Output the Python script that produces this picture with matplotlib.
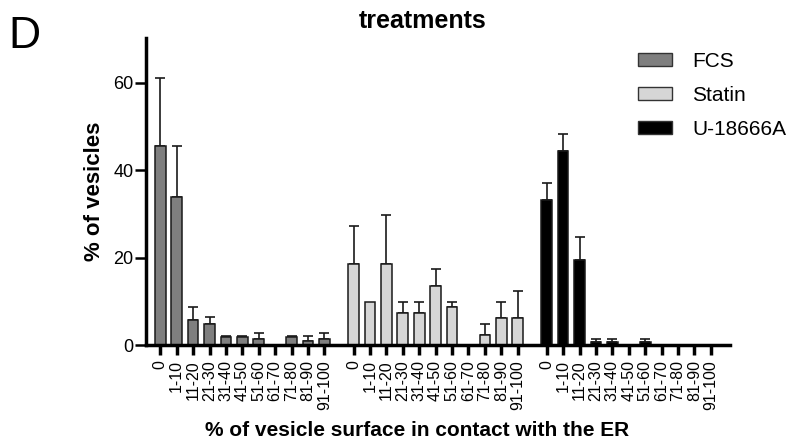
import matplotlib
matplotlib.use("Agg")
import matplotlib.pyplot as plt
import numpy as np
from matplotlib.patches import Patch

plt.rcParams['font.family'] = ['Liberation Sans', 'DejaVu Sans']

categories = ["0", "1-10", "11-20", "21-30", "31-40", "41-50", "51-60",
              "61-70", "71-80", "81-90", "91-100"]
groups = ["FCS", "Statin", "U-18666A"]
fcs_mean = [45.6, 34.0, 5.7, 4.7, 1.8, 1.8, 1.3, 0.0, 1.8, 0.9, 1.3]
fcs_err = [15.5, 11.5, 2.9, 1.7, 0.2, 0.2, 1.5, 0.0, 0.2, 1.2, 1.5]
statin_mean = [18.5, 9.8, 18.5, 7.3, 7.3, 13.6, 8.6, 0.0, 2.3, 6.2, 6.2]
statin_err = [8.8, 0.0, 11.3, 2.5, 2.5, 3.7, 1.2, 0.0, 2.4, 3.6, 6.2]
u_mean = [33.3, 44.5, 19.5, 0.75, 0.75, 0.0, 0.75, 0.0, 0.0, 0.0, 0.0]
u_err = [3.7, 3.9, 5.3, 0.65, 0.65, 0.0, 0.65, 0.0, 0.0, 0.0, 0.0]
colors = ["#7f7f7f", "#d6d6d6", "#000000"]

means = [fcs_mean, statin_mean, u_mean]
errs = [fcs_err, statin_err, u_err]

fig = plt.figure(figsize=(8.01, 4.43), dpi=100)
ax = fig.add_axes([0.1823, 0.2212, 0.729, 0.693])

n = len(categories)
group_step = n + 0.77
width = 0.65
tick_pos = []
tick_lab = []
handles = []
for g, (name, m, e, c) in enumerate(zip(groups, means, errs, colors)):
    x = np.arange(n) + g * group_step
    m = np.array(m)
    e = np.array(e)
    ax.bar(x, m, width=width, color=c, edgecolor="#1a1a1a", linewidth=1.1, zorder=2)
    mask = e > 0
    ax.errorbar(x[mask], m[mask], yerr=[np.zeros(mask.sum()), e[mask]],
                fmt="none", ecolor="#1a1a1a", elinewidth=1.2, capsize=3.5,
                capthick=1.2, zorder=1)
    tick_pos.extend(x)
    tick_lab.extend(categories)
    handles.append(Patch(facecolor=c, edgecolor="#333333", linewidth=1.0, label=name))

ax.set_xlim(-0.87, 34.7)
ax.set_ylim(0, 70.3)
ax.set_yticks([0, 20, 40, 60])
ax.set_xticks(tick_pos)
ax.set_xticklabels(tick_lab, rotation=90, fontsize=11.5)
ax.tick_params(axis='y', labelsize=13, width=1.8, length=8, direction='out', pad=1)
ax.tick_params(axis='x', width=2.5, length=7.5, direction='out', pad=3.5)
for s in ['top', 'right']:
    ax.spines[s].set_visible(False)
for s in ['left', 'bottom']:
    ax.spines[s].set_linewidth(2.5)

ax.set_ylabel("% of vesicles", fontsize=16, fontweight='bold', labelpad=6)
ax.set_xlabel("% of vesicle surface in contact with the ER", fontsize=15,
              fontweight='bold', labelpad=8)
ax.xaxis.label.set_x(0.464)
fig.text(0.528, 0.936, "treatments", fontsize=18, fontweight='bold',
         ha='center', va='baseline')

fig.legend(handles=handles, loc='upper left', bbox_to_anchor=(0.7965, 0.8826),
           frameon=False, fontsize=15, handlelength=1.63, handleheight=0.63,
           labelspacing=0.72, handletextpad=0.96, borderpad=0, borderaxespad=0)

fig.text(0.011, 0.965, "D", fontsize=32, va='top', ha='left')

fig.savefig("out.png", dpi=100)
